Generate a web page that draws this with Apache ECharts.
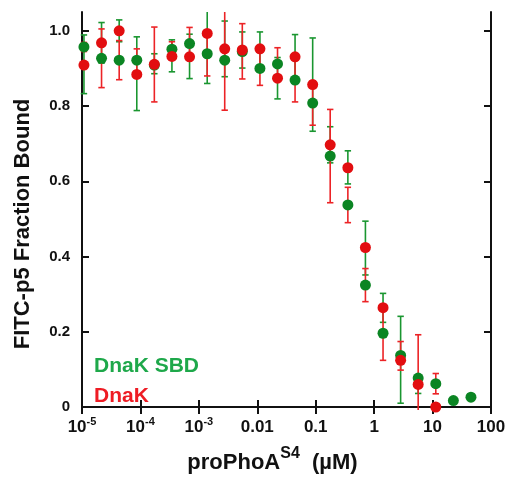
<!DOCTYPE html>
<html>
<head>
<meta charset="utf-8">
<script src="https://cdn.jsdelivr.net/npm/echarts@6/dist/echarts.min.js"></script>
<style>
html,body{margin:0;padding:0;background:#fff;}
#chart{width:511px;height:479px;}
</style>
</head>
<body>
<div id="chart"></div>
<script>
// proPhoA^S4 concentration (uM), 2-fold dilution series
const conc = [1.08e-5, 2.16e-5, 4.33e-5, 8.66e-5, 1.73e-4, 3.46e-4, 6.93e-4, 1.39e-3, 2.77e-3, 5.54e-3, 0.0111, 0.0222, 0.0443, 0.0887, 0.177, 0.355, 0.709, 1.42, 2.84, 5.67, 11.35, 22.7, 45.4];
// DnaK SBD (green)
const sbdValues = [0.957, 0.927, 0.922, 0.922, 0.909, 0.951, 0.966, 0.939, 0.922, 0.945, 0.900, 0.912, 0.869, 0.808, 0.667, 0.537, 0.324, 0.196, 0.137, 0.077, 0.062, 0.017, 0.026];
const sbdErrLow  = [0.833, 0.914, 0.971, 0.788, 0.886, 0.891, 0.873, 0.860, 0.878, 0.901, 0.907, 0.819, 0.872, 0.733, 0.649, 0.593, 0.351, 0.225, 0.010, 0.036, null, null, null];
const sbdErrHigh = [0.989, 1.022, 1.029, 0.984, 0.939, 0.976, 0.991, 1.126, 1.026, 0.997, 0.997, 0.929, 0.990, 0.981, 0.745, 0.681, 0.494, 0.302, 0.241, 0.084, null, null, null];
// DnaK (red)
const dnakValues = [0.909, 0.968, 1.000, 0.884, 0.911, 0.932, 0.931, 0.993, 0.952, 0.949, 0.952, 0.874, 0.931, 0.857, 0.697, 0.636, 0.424, 0.264, 0.124, 0.060, 0.000];
const dnakErrLow  = [0.945, 0.849, 0.870, 0.892, 0.811, 0.931, 0.923, 0.880, 0.789, 0.872, 0.855, 0.869, 0.811, 0.749, 0.543, 0.490, 0.280, 0.124, 0.098, -0.038, 0.035];
const dnakErrHigh = [0.969, 1.005, 0.974, 0.952, 1.010, 0.971, 1.009, 0.998, 1.055, 1.019, 0.945, 0.955, 0.927, 0.867, 0.791, 0.584, 0.368, 0.268, 0.174, 0.192, 0.089];

const xTickValues = [1e-5, 1e-4, 1e-3, 0.01, 0.1, 1, 10, 100];
const xTickLabels = ['{b|10}{s|-5}', '{b|10}{s|-4}', '{b|10}{s|-3}', '{b|0.01}', '{b|0.1}', '{b|1}', '{b|10}', '{b|100}'];
const yTickValues = [0, 0.2, 0.4, 0.6, 0.8, 1.0];
const yTickLabels = ['0', '0.2', '0.4', '0.6', '0.8', '1.0'];

const GREEN = '#0b8523', GREEN_BAR = '#1a9630', GREEN_TXT = '#1ea84a';
const RED = '#e20e10', RED_BAR = '#ec2326', RED_TXT = '#ee1c24';

const chart = echarts.init(document.getElementById('chart'), null, {renderer: 'canvas'});

function errData(lo, hi) {
  const out = [];
  for (let i = 0; i < lo.length; i++) {
    if (lo[i] == null || hi[i] == null) continue;
    out.push([conc[i], lo[i], hi[i]]);
  }
  return out;
}

function errRender(color) {
  return function (params, api) {
    const cs = params.coordSys;
    const top = cs.y, bot = cs.y + cs.height;
    const pHi = api.coord([api.value(0), api.value(2)]);
    const pLo = api.coord([api.value(0), api.value(1)]);
    let yHi = pHi[1], yLo = pLo[1];
    const capHi = yHi >= top, capLo = yLo <= bot;
    yHi = Math.max(top, yHi); yLo = Math.min(bot, yLo);
    const x = pHi[0], hw = 3.2;
    const style = {stroke: color, lineWidth: 1.6};
    const children = [{type: 'line', shape: {x1: x, y1: yHi, x2: x, y2: yLo}, style: style}];
    if (capHi) children.push({type: 'line', shape: {x1: x - hw, y1: yHi, x2: x + hw, y2: yHi}, style: style});
    if (capLo) children.push({type: 'line', shape: {x1: x - hw, y1: yLo, x2: x + hw, y2: yLo}, style: style});
    return {type: 'group', children: children};
  };
}

const axisLineStyle = {color: '#111', width: 2};
const font = 'Liberation Sans, Arial, sans-serif';

const option = {
  animation: false,
  backgroundColor: '#fff',
  grid: {left: 82, right: 20, top: 12, bottom: 67},
  legend: {
    orient: 'vertical', left: 84, top: 351, itemGap: 9,
    itemWidth: 0, itemHeight: 0, icon: 'none', selectedMode: false,
    textStyle: {fontFamily: font, fontWeight: 'bold', fontSize: 21},
    data: [
      {name: 'DnaK SBD', textStyle: {color: GREEN_TXT}},
      {name: 'DnaK', textStyle: {color: RED_TXT}}
    ]
  },
  xAxis: [{
    type: 'log', logBase: 10, min: 1e-5, max: 100,
    position: 'bottom',
    axisLine: {lineStyle: axisLineStyle},
    axisTick: {inside: true, length: 7, lineStyle: {color: '#111', width: 2}, customValues: xTickValues},
    minorTick: {show: false},
    splitLine: {show: false},
    axisLabel: {
      customValues: xTickValues, margin: 6,
      formatter: function (v) {
        const i = xTickValues.findIndex(t => Math.abs(Math.log10(t) - Math.log10(v)) < 1e-6);
        return i >= 0 ? xTickLabels[i] : '';
      },
      rich: {
        b: {fontFamily: font, fontWeight: 'bold', fontSize: 17, color: '#111', verticalAlign: 'bottom', lineHeight: 20},
        s: {fontFamily: font, fontWeight: 'bold', fontSize: 11, color: '#111', verticalAlign: 'top', lineHeight: 20}
      }
    },
    name: '{b|proPhoA}{s|S4}{b|  (\u00b5M)}',
    nameLocation: 'middle', nameGap: 36,
    nameTextStyle: {
      padding: [0, 28, 0, 0],
      rich: {
        b: {fontFamily: font, fontWeight: 'bold', fontSize: 22, color: '#111', verticalAlign: 'bottom', lineHeight: 28},
        s: {fontFamily: font, fontWeight: 'bold', fontSize: 16, color: '#111', verticalAlign: 'top', lineHeight: 28}
      }
    }
  }, {
    type: 'log', logBase: 10, min: 1e-5, max: 100,
    position: 'top',
    axisLine: {lineStyle: axisLineStyle},
    axisTick: {inside: true, length: 7, lineStyle: {color: '#111', width: 2}, customValues: xTickValues},
    minorTick: {show: false},
    axisLabel: {show: false},
    splitLine: {show: false}
  }],
  yAxis: [{
    type: 'value', min: -0.008, max: 1.05,
    position: 'left',
    axisLine: {show: true, lineStyle: axisLineStyle},
    axisTick: {show: true, inside: true, length: 7, lineStyle: {color: '#111', width: 2}, customValues: yTickValues},
    splitLine: {show: false},
    axisLabel: {
      customValues: yTickValues, margin: 12,
      fontFamily: font, fontWeight: 'bold', fontSize: 15, color: '#111',
      formatter: function (v) {
        const i = yTickValues.findIndex(t => Math.abs(t - v) < 1e-6);
        return i >= 0 ? yTickLabels[i] : '';
      }
    },
    name: 'FITC-p5 Fraction Bound',
    nameLocation: 'middle', nameGap: 48, nameRotate: 90,
    nameTextStyle: {fontFamily: font, fontWeight: 'bold', fontSize: 22, color: '#111', padding: [0, 26, 0, 0]}
  }, {
    type: 'value', min: -0.008, max: 1.05,
    position: 'right',
    axisLine: {show: true, lineStyle: axisLineStyle},
    axisTick: {show: true, inside: true, length: 7, lineStyle: {color: '#111', width: 2}, customValues: yTickValues},
    splitLine: {show: false},
    axisLabel: {show: false}
  }],
  series: [
    {
      name: 'sbdErr', type: 'custom', xAxisIndex: 0, yAxisIndex: 0, z: 2,
      renderItem: errRender(GREEN_BAR), data: errData(sbdErrLow, sbdErrHigh),
      encode: {x: 0, y: [1, 2]}, silent: true
    },
    {
      name: 'dnakErr', type: 'custom', xAxisIndex: 0, yAxisIndex: 0, z: 3,
      renderItem: errRender(RED_BAR), data: errData(dnakErrLow, dnakErrHigh),
      encode: {x: 0, y: [1, 2]}, silent: true
    },
    {
      name: 'DnaK SBD', type: 'scatter', xAxisIndex: 0, yAxisIndex: 0, z: 4,
      symbol: 'circle', symbolSize: 11,
      itemStyle: {color: GREEN, opacity: 1},
      data: sbdValues.map((v, i) => [conc[i], v])
    },
    {
      name: 'DnaK', type: 'scatter', xAxisIndex: 0, yAxisIndex: 0, z: 5,
      symbol: 'circle', symbolSize: 11,
      itemStyle: {color: RED, opacity: 1},
      data: dnakValues.map((v, i) => [conc[i], v])
    }
  ]
};
chart.setOption(option);
</script>
</body>
</html>
